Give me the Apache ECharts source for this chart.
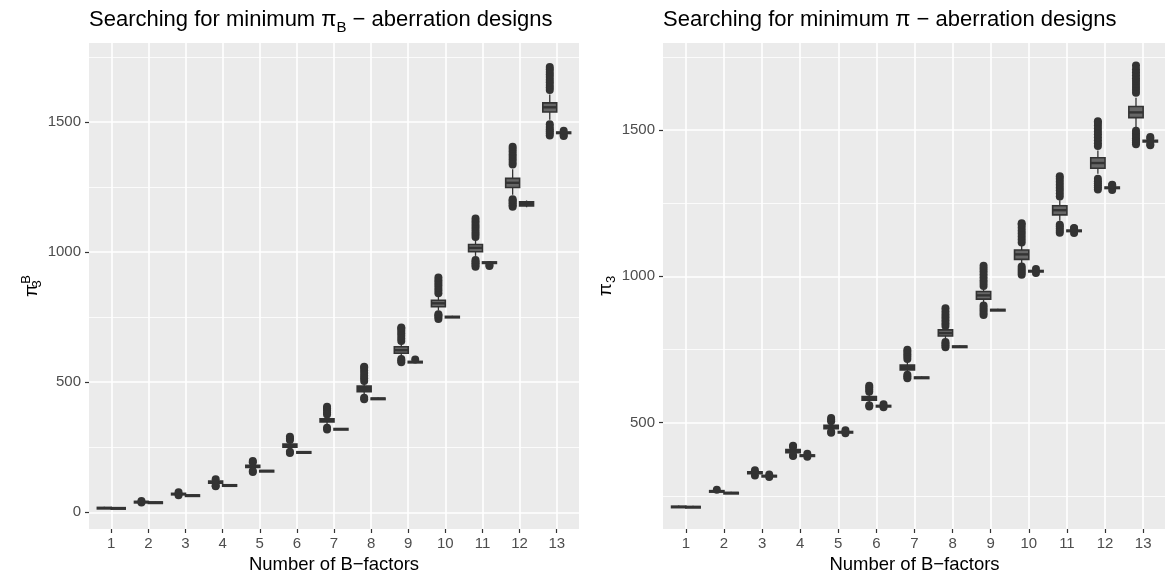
<!DOCTYPE html>
<html>
<head>
<meta charset="utf-8">
<script src="https://cdn.jsdelivr.net/npm/echarts@6/dist/echarts.min.js"></script>
<style>
  html, body { margin: 0; padding: 0; background: #fff; }
  #chart { width: 1165px; height: 577px; }
</style>
</head>
<body>
<div id="chart"></div>
<script>
// number of B-factors on the x axis
const factors = [1, 2, 3, 4, 5, 6, 7, 8, 9, 10, 11, 12, 13];
const leftTicks = [0, 500, 1000, 1500];
const leftMinor = [250, 750, 1250, 1750];
const rightTicks = [500, 1000, 1500];
const rightMinor = [250, 750, 1250, 1750];

// left panel (pi_B): [lower whisker, Q1, median, Q3, upper whisker]
const leftSearchBox = [
  [13, 15, 17, 19, 21], [39, 40, 41, 42, 43], [68, 70, 71, 73, 75],
  [106, 112, 116, 120, 124], [164, 172, 176, 181, 188], [240, 250, 256, 262, 272],
  [335, 347, 353, 359, 370], [447, 463, 475, 485, 500], [595, 611, 623, 636, 650],
  [775, 790, 803, 815, 830], [985, 1001, 1016, 1029, 1045], [1220, 1248, 1266, 1283, 1318],
  [1508, 1538, 1556, 1573, 1605]
];
const leftSearchOut = [
  [], [38, 44], [66, 77], [100, 103, 127], [155, 159, 192, 197],
  [228, 233, 278, 284, 290],
  [318, 325, 376, 384, 392, 400, 406],
  [434, 440, 505, 515, 525, 535, 545, 555, 559],
  [577, 583, 589, 658, 668, 678, 688, 698, 706, 710],
  [743, 750, 756, 761, 842, 852, 862, 872, 882, 892, 902],
  [943, 950, 957, 963, 969, 1058, 1068, 1078, 1088, 1098, 1108, 1118, 1129],
  [1174, 1180, 1186, 1192, 1198, 1203, 1336, 1346, 1356, 1366, 1376, 1386, 1396, 1404],
  [1448, 1456, 1464, 1472, 1480, 1491, 1622, 1632, 1642, 1652, 1662, 1672, 1682, 1692, 1702, 1711]
];
const leftBestBox = [
  [13, 15, 16, 18, 20], [37, 38, 39, 40, 41], [64, 65, 66, 67, 68],
  [102, 104, 105, 106, 108], [157, 159, 160, 161, 163], [228, 230, 231, 233, 235],
  [317, 319, 321, 322, 324], [435, 437, 438, 439, 441], [574, 576, 578, 580, 582],
  [747, 749, 751, 753, 755], [956, 958, 960, 962, 963], [1172, 1177, 1185, 1193, 1198],
  [1455, 1457, 1459, 1461, 1463]
];
const leftBestOut = [
  [], [], [], [], [], [], [], [], [587], [], [950, 946], [], [1446, 1450, 1466]
];

// right panel (pi)
const rightSearchBox = [
  [209, 211, 213, 215, 217], [264, 266, 267, 268, 269], [323, 326, 329, 332, 335],
  [392, 398, 403, 408, 414], [472, 480, 486, 491, 500], [565, 577, 583, 589, 600],
  [670, 680, 689, 697, 712], [785, 796, 806, 817, 825], [910, 922, 935, 948, 960],
  [1045, 1058, 1075, 1090, 1105], [1190, 1210, 1226, 1241, 1260], [1350, 1369, 1387, 1405, 1430],
  [1510, 1542, 1560, 1580, 1610]
];
const rightSearchOut = [
  [], [271], [320, 338], [386, 389, 418, 421], [466, 469, 505, 510, 516],
  [555, 560, 606, 613, 620, 626],
  [652, 658, 664, 718, 726, 734, 742, 749],
  [758, 764, 770, 776, 830, 840, 850, 860, 870, 880, 891],
  [868, 876, 884, 892, 900, 967, 977, 987, 997, 1007, 1017, 1027, 1036],
  [1005, 1012, 1019, 1026, 1034, 1116, 1126, 1136, 1146, 1156, 1166, 1176, 1181],
  [1149, 1156, 1163, 1170, 1176, 1273, 1283, 1293, 1303, 1313, 1323, 1333, 1342],
  [1297, 1304, 1311, 1318, 1325, 1333, 1445, 1455, 1465, 1475, 1485, 1495, 1505, 1515, 1525, 1530],
  [1451, 1458, 1465, 1472, 1480, 1488, 1497, 1627, 1637, 1647, 1657, 1667, 1677, 1687, 1697, 1707, 1720]
];
const rightBestBox = [
  [210, 212, 213, 214, 216], [258, 260, 261, 262, 264], [316, 318, 319, 320, 322],
  [386, 388, 389, 390, 392], [466, 468, 469, 470, 472], [555, 557, 558, 559, 561],
  [652, 654, 655, 656, 658], [758, 760, 761, 762, 764], [883, 885, 886, 887, 889],
  [1014, 1016, 1018, 1020, 1022], [1152, 1154, 1156, 1158, 1160], [1299, 1301, 1303, 1305, 1307],
  [1455, 1459, 1462, 1465, 1469]
];
const rightBestOut = [
  [], [], [315, 323], [384, 394], [464, 474], [553, 563], [], [], [],
  [1011, 1025], [1148, 1163, 1165], [1295, 1311, 1313], [1448, 1452, 1472, 1476]
];

const INK = '#333333';
const FONT = '"Liberation Sans", Arial, sans-serif';
const DODGE = 0.1875;
const BOX_W = 0.375;

function boxData(search, best) {
  const out = [];
  factors.forEach((f, i) => {
    out.push([f - DODGE].concat(search[i]));
    out.push([f + DODGE].concat(best[i]));
  });
  return out;
}
function outlierData(search, best) {
  const out = [];
  factors.forEach((f, i) => {
    search[i].forEach(v => out.push([f - DODGE, v]));
    best[i].forEach(v => out.push([f + DODGE, v]));
  });
  return out;
}

function renderBox(params, api) {
  const x = api.value(0);
  const lo = api.coord([x, api.value(1)]);
  const hi = api.coord([x, api.value(5)]);
  const tl = api.coord([x - BOX_W / 2, api.value(4)]);
  const br = api.coord([x + BOX_W / 2, api.value(2)]);
  const md = api.coord([x, api.value(3)]);
  const w = br[0] - tl[0];
  const h = Math.max(br[1] - tl[1], 1.5);
  const tall = h > 6;
  return {
    type: 'group',
    children: [
      { type: 'line', shape: { x1: lo[0], y1: lo[1], x2: hi[0], y2: hi[1] },
        style: { stroke: INK, lineWidth: 1.3 } },
      { type: 'rect', shape: { x: tl[0], y: tl[1], width: w, height: h },
        style: { fill: tall ? '#666666' : INK, stroke: INK, lineWidth: 1.6 } },
      { type: 'line', shape: { x1: tl[0], y1: md[1], x2: br[0], y2: md[1] },
        style: { stroke: INK, lineWidth: tall ? 2.4 : 1.6 } }
    ]
  };
}

const axisLabelStyle = { color: '#4D4D4D', fontSize: 15, fontFamily: FONT };

function xAxisFor(gi) {
  return {
    gridIndex: gi, type: 'value', min: 0.4, max: 13.6, position: 'bottom',
    name: 'Number of B\u2212factors', nameLocation: 'middle', nameGap: 23,
    nameTextStyle: { color: '#000', fontSize: 18.5, fontFamily: FONT },
    axisLine: { show: false, onZero: false },
    axisTick: { show: true, length: 4, customValues: factors, lineStyle: { color: INK, width: 1.2 } },
    axisLabel: Object.assign({ customValues: factors, margin: 7 }, axisLabelStyle),
    splitLine: { show: true, lineStyle: { color: '#fff', width: 1.6 } }
  };
}
function yAxisFor(gi, min, max, ticks, name, rich) {
  return {
    gridIndex: gi, type: 'value', min: min, max: max,
    name: name, nameLocation: 'middle', nameGap: 45, nameRotate: 90,
    nameTextStyle: { color: '#000', fontSize: 18.5, fontFamily: FONT, rich: rich },
    axisLine: { show: false, onZero: false },
    axisTick: { show: true, length: 4, customValues: ticks, lineStyle: { color: INK, width: 1.2 } },
    axisLabel: Object.assign({ customValues: ticks, margin: 8, formatter: v => String(v) }, axisLabelStyle),
    splitLine: { show: true, lineStyle: { color: '#fff', width: 1.6 } }
  };
}
function minorAxisFor(gi, min, max, ticks) {
  return {
    gridIndex: gi, type: 'value', min: min, max: max, position: 'left',
    axisLine: { show: false, onZero: false }, axisLabel: { show: false },
    axisTick: { show: false, customValues: ticks },
    splitLine: { show: true, lineStyle: { color: '#fff', width: 0.8 } }
  };
}

const nameRich = {
  p: { fontSize: 19, fontFamily: FONT, color: '#000', lineHeight: 24 },
  s: { fontSize: 13, fontFamily: FONT, color: '#000', verticalAlign: 'bottom', lineHeight: 13, width: 0 },
  u: { fontSize: 13, fontFamily: FONT, color: '#000', verticalAlign: 'top', lineHeight: 13 },
  s2: { fontSize: 13, fontFamily: FONT, color: '#000', verticalAlign: 'bottom', lineHeight: 13 }
};
const titleRich = {
  s: { fontSize: 15, fontFamily: FONT, color: '#000', verticalAlign: 'bottom', lineHeight: 15 }
};

const chart = echarts.init(document.getElementById('chart'));
chart.setOption({
  animation: false,
  backgroundColor: '#fff',
  title: [
    { text: 'Searching for minimum \u03C0{s|B} \u2212 aberration designs', left: 89, top: 5, padding: 0,
      textStyle: { fontSize: 22, fontWeight: 'normal', color: '#000', fontFamily: FONT, lineHeight: 30, rich: titleRich } },
    { text: 'Searching for minimum \u03C0 \u2212 aberration designs', left: 663, top: 5, padding: 0,
      textStyle: { fontSize: 22, fontWeight: 'normal', color: '#000', fontFamily: FONT, lineHeight: 30 } }
  ],
  grid: [
    { left: 89, right: 586, top: 43, bottom: 48, show: true, backgroundColor: '#EBEBEB', borderWidth: 0,
      containLabel: false, outerBoundsMode: 'none' },
    { left: 663, right: -1, top: 43, bottom: 48, show: true, backgroundColor: '#EBEBEB', borderWidth: 0,
      containLabel: false, outerBoundsMode: 'none' }
  ],
  xAxis: [xAxisFor(0), xAxisFor(1)],
  yAxis: [
    yAxisFor(0, -64, 1803, leftTicks, '{p|\u03C0}{s|3}{u|B}', nameRich),
    yAxisFor(1, 137, 1797, rightTicks, '{p|\u03C0}{s2|3}', nameRich),
    minorAxisFor(0, -64, 1803, leftMinor),
    minorAxisFor(1, 137, 1797, rightMinor)
  ],
  series: [
    { type: 'custom', xAxisIndex: 0, yAxisIndex: 0, renderItem: renderBox,
      encode: { x: 0, y: [1, 2, 3, 4, 5] }, data: boxData(leftSearchBox, leftBestBox), z: 3 },
    { type: 'scatter', xAxisIndex: 0, yAxisIndex: 0, symbolSize: 8,
      itemStyle: { color: INK, opacity: 1 }, data: outlierData(leftSearchOut, leftBestOut), z: 3 },
    { type: 'custom', xAxisIndex: 1, yAxisIndex: 1, renderItem: renderBox,
      encode: { x: 0, y: [1, 2, 3, 4, 5] }, data: boxData(rightSearchBox, rightBestBox), z: 3 },
    { type: 'scatter', xAxisIndex: 1, yAxisIndex: 1, symbolSize: 8,
      itemStyle: { color: INK, opacity: 1 }, data: outlierData(rightSearchOut, rightBestOut), z: 3 }
  ]
});
</script>
</body>
</html>
